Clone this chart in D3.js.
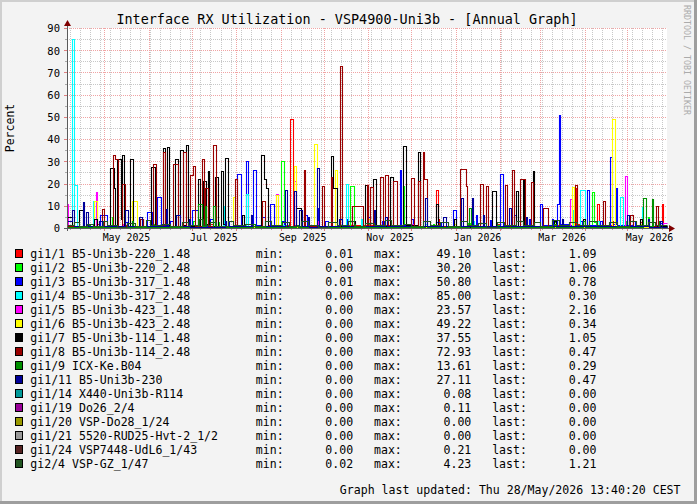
<!DOCTYPE html>
<html><head><meta charset="utf-8">
<script src="https://cdn.jsdelivr.net/npm/d3@7"></script>
<style>
body{margin:0;background:#f3f3f3;}
svg{display:block;}
text{font-family:"DejaVu Sans Mono",monospace;}
</style></head>
<body><svg id="c" width="697" height="504"></svg>
<script>
// ---------- DATA ----------
const titleText = "Interface RX Utilization - VSP4900-Uni3b - [Annual Graph]";
const yLabel = "Percent";
const footerText = "Graph last updated: Thu 28/May/2026 13:40:20 CEST";
const watermark = "RRDTOOL / TOBI OETIKER";
const yTicks = [0,10,20,30,40,50,60,70,80,90];
const yMinorTicks = [5,15,25,35,45,55,65,75,85];
const timeStart = "2025-04-04T20:50:00Z";
const timeEnd = "2026-05-28T13:40:00Z";
const dataOrigin = "2025-04-05T00:00:00Z"; // day 0 of the series below

const seriesNames = ["gi1/1 B5-Uni3b-220_1.48","gi1/2 B5-Uni3b-220_2.48","gi1/3 B5-Uni3b-317_1.48","gi1/4 B5-Uni3b-317_2.48","gi1/5 B5-Uni3b-423_1.48","gi1/6 B5-Uni3b-423_2.48","gi1/7 B5-Uni3b-114_1.48","gi1/8 B5-Uni3b-114_2.48","gi1/9 ICX-Ke.B04","gi1/11 B5-Uni3b-230","gi1/14 X440-Uni3b-R114","gi1/19 Do26_2/4","gi1/20 VSP-Do28_1/24","gi1/21 5520-RUD25-Hvt-2_1/2","gi1/24 VSP7448-UdL6_1/43","gi2/4 VSP-GZ_1/47"];
const seriesColors = ["#ff0000","#00ff00","#0000ff","#00ffff","#ff00ff","#ffff00","#000000","#990000","#009000","#000099","#009999","#990099","#999900","#999999","#552222","#225522"];
const statMin = [0.01,0.00,0.01,0.00,0.00,0.00,0.00,0.00,0.00,0.00,0.00,0.00,0.00,0.00,0.00,0.02];
const statMax = [49.10,30.20,50.80,85.00,23.57,49.22,37.55,72.93,13.61,27.11,0.08,0.11,0.00,0.00,0.21,4.23];
const statLast = [1.09,1.06,0.78,0.30,2.16,0.34,1.05,0.47,0.29,0.47,0.00,0.00,0.00,0.00,0.00,1.21];

// step series: [day, value] — value holds until the next entry
const gi1_1 = [[0,0.8],[20,2],[22,0.5],[40,1.5],[42,0.4],[70,0.9],[100,1.8],[102,0.6],[140,1.2],[155.5,49.1],[157.5,1.5],[159,0.5],[190,1.2],[230,0.6],[257.5,17],[258.5,4],[259.5,0.8],[300,1.6],[302,0.5],[340,1.3],[355,18],[356,2],[357,0.7],[370,11],[371,1.2],[380,3],[381,0.8],[400,2.5],[401,0.6],[415,11],[416,1.09]];
const gi1_2 = [[0,1],[10,0.3],[31,5],[32,0.6],[60,2],[62,0.5],[88,3],[89,0.8],[105,2.5],[106,0.5],[120,1.5],[122,0.4],[149,30.2],[151,1.2],[153,0.4],[175,1.5],[176,0.5],[197.5,19],[200,1.1],[210,2],[211,0.6],[234,19],[235,1.5],[236,0.5],[255,1.8],[256,0.6],[280,2.2],[281,0.5],[300,1.5],[301,0.4],[340,2.5],[341,0.8],[353,3],[354,0.6],[366.5,16],[367.5,2.5],[369,0.8],[390,3],[391,0.6],[405,5],[406,1.06]];
const gi1_3 = [[0,0.5],[23,6],[28,0.8],[40,2.5],[42,0.6],[56,7],[59,1],[63,14],[65.5,1.2],[72,3],[74,0.6],[87,8],[91,1],[100,4],[102,0.8],[112,3],[113,0.5],[118.5,24.5],[121,1.5],[125,30],[126.5,2],[130,26],[132,1.5],[136,5],[138,0.7],[141.5,11],[144,1],[150,3],[151,0.5],[165,6],[167,1],[174,9],[175,1],[180,3],[182,0.6],[195,4],[196,0.5],[210,5],[211,0.8],[220,3],[221,0.7],[232,26],[233,1.5],[240,4],[241,0.6],[257.5,2.5],[261,0.5],[269,8],[271,1],[285,6],[286,0.7],[295,3.5],[296,0.6],[302,24.5],[304,1.5],[312,6],[313,0.8],[322,4],[323,0.7],[330,11],[331.5,1.5],[338,4],[339,0.7],[342,11],[343.5,50.8],[344.2,2],[350,1.5],[358,3],[359,0.8],[363,17],[364,1.5],[372,3],[373,0.6],[379,32],[380,2],[383,18],[384,1.2],[395,3],[396,0.6],[405,2],[406,0.5],[414,2.2],[415,0.78]];
const gi1_4 = [[0,0.3],[3.5,85],[4.5,0.5],[5,19.5],[7,0.4],[18,12],[19,0.4],[40,1],[41,0.2],[108.5,10],[109.5,0.3],[125,15.5],[126,0.4],[150,1.5],[151,0.2],[194.5,20],[196,0.5],[205,4],[206,0.3],[250,2],[251,0.2],[283,3],[284,0.3],[353,8],[354,0.4],[358,17],[361.5,0.8],[370,3],[371,0.3],[386,14],[388,0.6],[401,9.5],[402,0.5],[410,1.5],[411,0.3]];
const gi1_5 = [[0,11],[0.7,0.3],[20,16],[21,0.4],[38,2],[39,0.3],[90,1.5],[91,0.3],[146,15.5],[147,0.5],[158.5,21],[159.5,0.4],[175,3],[176,0.3],[240,1.8],[241,0.3],[351,13],[352,0.6],[360,3],[361,0.4],[389,23.57],[391,0.8],[405,3],[406,0.5],[416,2.16]];
const gi1_6 = [[0,0.4],[19,12],[21,0.5],[45.5,12],[49,0.6],[80,2],[81,0.3],[116,14],[117,0.5],[145.5,15],[147,0.6],[158,28],[159.5,0.6],[172,38],[174.5,0.8],[187,26],[188.5,0.6],[210,4],[211,0.3],[270,2],[271,0.3],[352.5,18.5],[353.5,0.6],[380.5,49.22],[382,0.8],[392,5],[393,0.4],[400,2],[401,0.34]];
const gi1_7 = [[0,5],[3.5,0.8],[8.5,8],[11,0.6],[19,4],[21,0.5],[25,3],[26,0.6],[30,27],[32.5,18],[33.5,1],[35,31],[37.5,4],[38.5,33],[39.5,1],[44,31],[46,0.8],[51,4],[53,0.6],[58.5,27.5],[61,1],[67,36],[68.5,1.2],[70,36.5],[71,1],[75.5,31],[77,0.8],[79,35],[81,1.2],[83,37.55],[84,1],[91,22],[93,1],[95,21],[97,2],[98,25.5],[99,0.8],[103,23],[105,1],[107,25.5],[109,2],[110,31.5],[112,1],[122,6],[123.5,0.8],[135,33],[137,22],[139,18],[140,1],[160,9],[163,1],[184,32.5],[185.5,18],[188,1],[200,3],[201,0.6],[208,19.5],[210,1],[213.5,22],[215.5,1],[225.5,23],[227.5,1],[234.5,37],[236.5,1.2],[245,34],[246.5,1],[257.5,11],[258.5,0.8],[270,4],[271,0.5],[296.5,16.5],[299,1],[313,16.5],[314.5,0.8],[318,21.5],[319,1],[325,25.5],[326,0.9],[340,3],[341,0.6],[360,4],[361,0.7],[400,4],[401,0.8],[412,3],[413,1.05]];
const gi1_8 = [[0,1],[24.5,8.5],[26,0.8],[32,33],[33.5,31],[35.5,1],[38.5,20],[40,0.8],[51,4],[53,0.6],[60,29],[62,1],[67,34],[68.5,1],[74,29],[77,1],[81,34],[83,1],[86,24],[88,28],[89,1],[94,31],[95.5,1],[96.5,18],[98,1],[102,37.5],[104,1],[117,22],[118.5,1],[136,12],[138,0.8],[165,26],[166,1],[178,19],[179.5,0.8],[184,23],[185,1],[190.5,72.93],[192,1],[199,10],[206.5,1],[209,19.5],[210,1],[211.5,18.5],[213.5,1],[218.5,23],[220.5,1],[222,24],[224,1],[227.5,21],[230.5,1],[240,22.5],[242,1],[245,21],[246.5,1],[248,34],[249,22],[251,1],[274,26.5],[278.5,19],[279,1],[288,20],[290,1],[292.5,19],[294,1],[305.5,19.5],[307,1],[310.5,26],[312,1],[316,22],[319.5,1],[324,20.5],[325,1],[332,9],[335.5,0.8],[354.5,19.5],[356,1],[374,12],[375,0.8],[393,6],[395,0.7],[411,10],[412.5,0.47]];
const gi1_9 = [[0,0.5],[15,2],[16,0.3],[45,3],[46,0.5],[91.5,11],[94,0.8],[96,10],[97,0.6],[102,10],[103,0.5],[130,2],[131,0.3],[160,1.5],[161,0.3],[200,2],[201,0.4],[250,3],[251,0.4],[280.5,9],[281.5,0.5],[340,2],[341,0.4],[360,3],[361,0.5],[402,13.61],[404,0.8],[408,13],[409,0.6],[413,3],[414,0.29]];
const gi1_11 = [[0,3],[3.5,8],[4.5,1],[11,11.5],[12,1],[13,7],[14.5,1],[22,3],[24,0.8],[40,8],[42.5,1],[50,5],[52,0.8],[69,8.5],[70,1],[76,6],[79,1],[85,4],[86,0.6],[110,3],[111,0.7],[128,6],[129,0.8],[152,17],[153.5,1],[158,16.5],[159.5,1],[162,8],[164,1],[168,5],[169,0.6],[174.5,27.11],[175.5,1],[190,4],[192,0.8],[214,8],[215,1],[222,5],[223,0.8],[250,13.5],[251,1],[262,5],[264,0.7],[275,13.5],[276,1],[282.5,13.5],[283.5,1],[290,6],[291,0.8],[308,9],[310,1],[320,5],[321,0.8],[345,4],[346,0.7],[391,6],[392,1],[405,4],[406,0.6],[414,3],[415,0.47]];
const gi1_14 = [[0,0.02],[100,0.08],[101,0.01],[300,0.05],[301,0]];
const gi1_19 = [[0,0.01],[150,0.11],[151,0.02],[380,0]];
const gi1_20 = [[0,0],[200,0]];
const gi1_21 = [[0,0],[200,0]];
const gi1_24 = [[0,0.05],[200,0.21],[201,0.03],[400,0]];
const gi2_4 = [[0,1.2],[5,2.5],[8,0.8],[14,2],[18,1],[25,3],[28,1.5],[35,0.6],[42,2.2],[47,1],[55,3.5],[58,1.2],[66,2],[72,0.8],[80,2.8],[84,1.5],[92,4.23],[95,1.5],[100,2.5],[104,1],[112,3],[116,1.2],[124,2],[130,0.8],[138,3.2],[142,1.3],[150,2.5],[155,1],[163,3],[168,1.5],[175,0.5],[182,2.6],[188,1.2],[196,3],[200,1],[208,2.2],[214,1.5],[222,3.5],[226,1.2],[234,2],[240,0.7],[248,3],[253,1.4],[260,2.5],[266,1],[274,3],[279,1.4],[287,2.2],[292,0.6],[300,2.8],[305,1.3],[313,3.3],[318,1.5],[326,2.5],[330,1],[338,3.5],[343,1.5],[350,2.5],[356,1.2],[364,3],[370,1.5],[378,2.5],[384,1],[392,3],[397,1.5],[405,2.5],[410,1.21]];
const seriesData = [gi1_1,gi1_2,gi1_3,gi1_4,gi1_5,gi1_6,gi1_7,gi1_8,gi1_9,gi1_11,gi1_14,gi1_19,gi1_20,gi1_21,gi1_24,gi2_4];

// ---------- LAYOUT ----------
const W = 697, H = 504;
const X0 = 67, X1 = 667, YT = 28, YB = 228;
const svg = d3.select("#c");

svg.append("rect").attr("width",W).attr("height",H).attr("fill","#f3f3f3");
// 3D frame
svg.append("rect").attr("x",0).attr("y",0).attr("width",W).attr("height",2).attr("fill","#cfcfcf");
svg.append("rect").attr("x",0).attr("y",0).attr("width",2).attr("height",H).attr("fill","#cfcfcf");
svg.append("rect").attr("x",W-3).attr("y",0).attr("width",3).attr("height",H).attr("fill","#9e9e9e");
svg.append("rect").attr("x",0).attr("y",H-3).attr("width",W).attr("height",3).attr("fill","#9e9e9e");

// canvas
svg.append("rect").attr("x",X0).attr("y",YT).attr("width",X1-X0).attr("height",YB-YT).attr("fill","#ffffff");

const t0 = new Date(timeStart), t1 = new Date(timeEnd), org = new Date(dataOrigin);
const x = d3.scaleUtc().domain([t0,t1]).range([X0,X1]);
const y = d3.scaleLinear().domain([0,90]).range([YB,YT]);
const dayDate = d => new Date(org.getTime() + d*86400000);

const grid = svg.append("g").attr("shape-rendering","crispEdges");
// minor horizontal
yMinorTicks.forEach(v=>{
  grid.append("line").attr("x1",X0).attr("x2",X1).attr("y1",Math.round(y(v))+0.5).attr("y2",Math.round(y(v))+0.5)
    .attr("stroke","#c8c8c8").attr("stroke-dasharray","1,1");
  grid.append("line").attr("x1",X0-2).attr("x2",X0).attr("y1",Math.round(y(v))+0.5).attr("y2",Math.round(y(v))+0.5).attr("stroke","#aaa");
});
// minor vertical (weekly)
d3.utcMonday.range(t0,t1).forEach(d=>{
  const px = Math.round(x(d))+0.5;
  grid.append("line").attr("x1",px).attr("x2",px).attr("y1",YT).attr("y2",YB)
    .attr("stroke","#c8c8c8").attr("stroke-dasharray","1,1");
  grid.append("line").attr("x1",px).attr("x2",px).attr("y1",YB).attr("y2",YB+2).attr("stroke","#aaa");
});
// major horizontal
yTicks.filter(v=>v>0).forEach(v=>{
  grid.append("line").attr("x1",X0).attr("x2",X1).attr("y1",Math.round(y(v))+0.5).attr("y2",Math.round(y(v))+0.5)
    .attr("stroke","#f0a4a4").attr("stroke-dasharray","1,1");
});
yTicks.forEach(v=>{
  grid.append("line").attr("x1",X0-3).attr("x2",X0).attr("y1",Math.round(y(v))+0.5).attr("y2",Math.round(y(v))+0.5).attr("stroke","#e08080");
});
// major vertical (monthly)
d3.utcMonth.range(t0,t1).forEach(d=>{
  const px = Math.round(x(d))+0.5;
  grid.append("line").attr("x1",px).attr("x2",px).attr("y1",YT).attr("y2",YB)
    .attr("stroke","#f0a4a4").attr("stroke-dasharray","1,1");
  grid.append("line").attr("x1",px).attr("x2",px).attr("y1",YB).attr("y2",YB+3).attr("stroke","#e08080");
});

// series
const line = d3.line().x(p=>Math.round(x(p[0]))+0.5).y(p=>Math.round(y(p[1]))+0.5).curve(d3.curveStepAfter);
const plot = svg.append("g");
seriesData.forEach((s,i)=>{
  const pts = s.map(p=>[dayDate(p[0]),p[1]]);
  pts.push([t1, s[s.length-1][1]]);
  plot.append("path").attr("d",line(pts)).attr("fill","none")
    .attr("stroke",seriesColors[i]).attr("stroke-width",1.1).attr("stroke-linejoin","miter");
});

// axes lines
const ax = svg.append("g").attr("shape-rendering","crispEdges");
ax.append("line").attr("x1",X0+0.5).attr("x2",X0+0.5).attr("y1",YB+3).attr("y2",YT-5).attr("stroke","#5a5a5a");
ax.append("line").attr("x1",X0-3).attr("x2",X1+4).attr("y1",YB+0.5).attr("y2",YB+0.5).attr("stroke","#5a5a5a");
svg.append("path").attr("d",`M${X0-3},${YT-2} L${X0+0.5},${YT-8} L${X0+4},${YT-2} Z`).attr("fill","#800000");
svg.append("path").attr("d",`M${X1+2},${YB-3} L${X1+8},${YB+0.5} L${X1+2},${YB+4} Z`).attr("fill","#800000");

// y-axis labels
const yAxis = d3.axisLeft(y).tickValues(yTicks).tickSize(0).tickPadding(0).tickFormat(d3.format("d"));
const gy = svg.append("g").attr("transform",`translate(${X0-7},0)`).call(yAxis);
gy.select(".domain").remove();
gy.selectAll("text").attr("font-family","DejaVu Sans Mono").attr("font-size","10.5px").attr("fill","#000").attr("dy","0.36em");

// x-axis labels (centered mid-month, every 2 months)
const labelDates = d3.utcMonth.every(2).range(d3.utcMonth.ceil(t0), t1).map(d=>d3.utcDay.offset(d,15));
const xAxis = d3.axisBottom(x).tickValues(labelDates).tickSize(0).tickPadding(0).tickFormat(d3.utcFormat("%b %Y"));
const gx = svg.append("g").attr("transform",`translate(0,${YB+13})`).call(xAxis);
gx.select(".domain").remove();
gx.selectAll("text").attr("font-family","DejaVu Sans Mono").attr("font-size","9.9px").attr("fill","#000").attr("dy","0");

// title
svg.append("text").attr("x",347).attr("y",24).attr("text-anchor","middle").attr("font-size","13.45px").attr("fill","#000").text(titleText);
// y label
svg.append("text").attr("transform",`translate(14,${(YT+YB)/2}) rotate(-90)`).attr("text-anchor","middle").attr("font-size","11.5px").attr("fill","#000").text(yLabel);
// watermark
svg.append("text").attr("transform",`translate(684,5) rotate(90)`).attr("font-size","8.3px").attr("fill","#ababab").text(watermark);

// legend
const pad = (v,n)=>{const s=v.toFixed(2);return " ".repeat(Math.max(0,n-s.length))+s;};
const lg = svg.append("g");
seriesNames.forEach((nm,i)=>{
  const cy = 254 + 14*i;
  lg.append("rect").attr("x",15.5).attr("y",cy-4.5).attr("width",7).attr("height",8)
    .attr("fill",seriesColors[i]).attr("stroke","#000").attr("stroke-width",1);
  lg.append("text").attr("x",30.3).attr("y",cy+4).attr("font-size","11.56px").attr("fill","#000").text(nm);
  const str = "min:"+pad(statMin[i],10)+"   max:"+pad(statMax[i],10)+"   last:"+pad(statLast[i],10);
  lg.append("text").attr("x",255.8).attr("y",cy+4).attr("font-size","11.56px").attr("fill","#000")
    .attr("xml:space","preserve").style("white-space","pre").text(str);
});
// footer
svg.append("text").attr("x",680.5).attr("y",494).attr("text-anchor","end").attr("font-size","11.56px").attr("fill","#000").text(footerText);
</script></body></html>
